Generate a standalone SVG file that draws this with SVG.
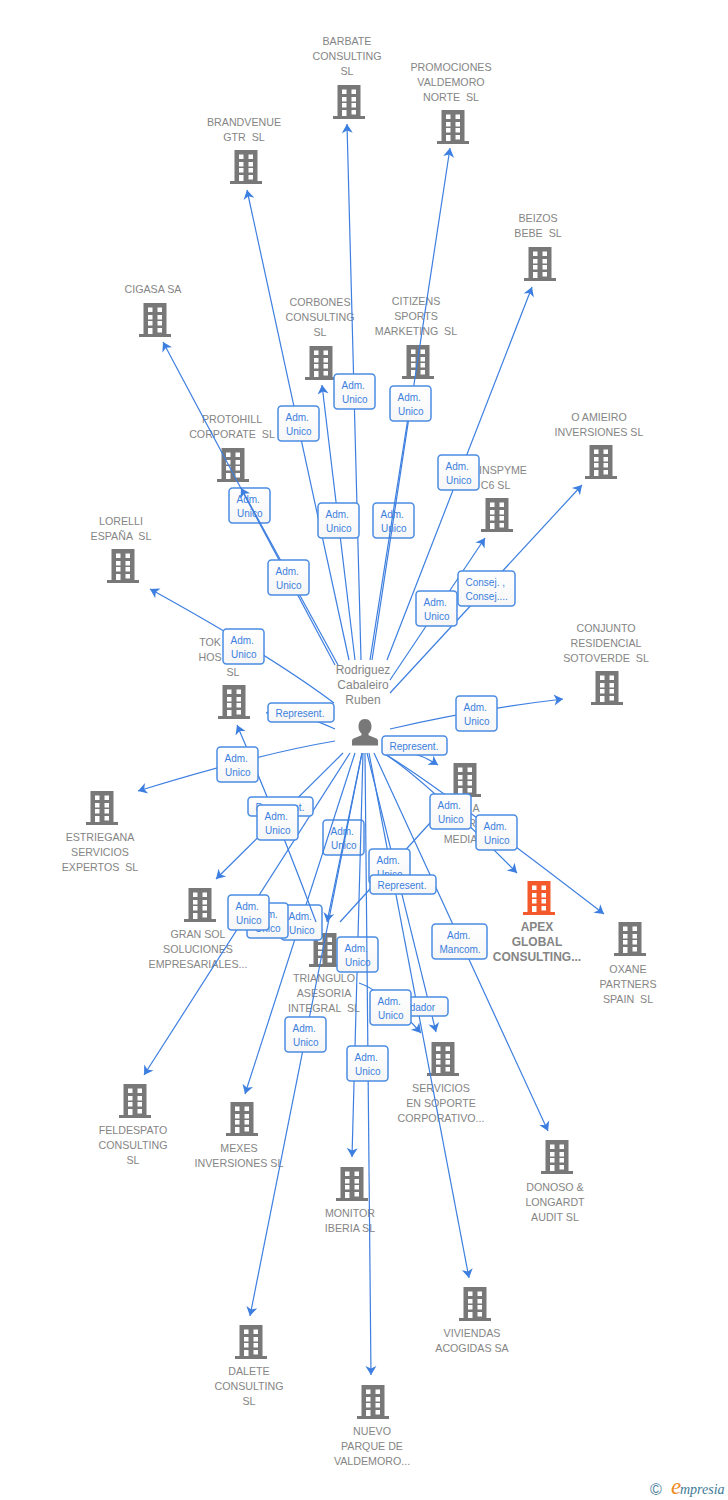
<svg xmlns="http://www.w3.org/2000/svg" width="728" height="1500" viewBox="0 0 728 1500">
<style>
text{font-family:"Liberation Sans",Arial,sans-serif;white-space:pre}
.n text{font-size:10.67px;fill:#858585;text-anchor:middle}
.p text{font-size:12px;fill:#858585;text-anchor:middle}
.a text{font-size:12px;fill:#858585;text-anchor:middle;font-weight:bold}
.e{fill:none;stroke:#3d7fe0;stroke-width:1.2;marker-end:url(#h)}
.f{fill:none;stroke:#3d7fe0;stroke-width:1.2}
.br{fill:url(#g);stroke:#4a8ce4;stroke-width:1.5}
.bt{font-size:10px;fill:#3c80de}
</style>
<defs>
<linearGradient id="g" x1="0" y1="0" x2="0" y2="1"><stop offset="0" stop-color="#ffffff"/><stop offset="1" stop-color="#f6f6f6"/></linearGradient>
<marker id="h" markerUnits="userSpaceOnUse" markerWidth="14" markerHeight="14" refX="12" refY="7" orient="auto"><path d="M3,1.500 L12,7 L3,12.500 L5.500,7 z" fill="#3d7fe0"/></marker>
<path id="bld" fill-rule="evenodd" d="M-11.500,0 H11.500 V31 H16 V34 H-16 V31 H-11.500 Z M-7,4.500 V9 H-2.500 V4.500 Z M2.500,4.500 V9 H7 V4.500 Z M-7,12 V16.500 H-2.500 V12 Z M2.500,12 V16.500 H7 V12 Z M-7,18 V22.500 H-2.500 V18 Z M2.500,18 V22.500 H7 V18 Z M-7,25 V31 H-2.500 V25 Z M2.500,25 V29.500 H7 V25 Z"/>
<g id="u"><rect class="br" width="41" height="35" rx="3.500"/><text class="bt" x="7.500" y="14.500">Adm.</text><text class="bt" x="8" y="29">Unico</text></g>
</defs>
<rect width="728" height="1500" fill="#ffffff"/>

<g id="nodes">
<g id="barbate" class="n"><use href="#bld" x="349" y="85" fill="#787878"/><text x="347" y="45">BARBATE</text><text x="347" y="60">CONSULTING</text><text x="347" y="75">SL</text></g>
<g id="promociones" class="n"><use href="#bld" x="453" y="110" fill="#787878"/><text x="451" y="71">PROMOCIONES</text><text x="451" y="86">VALDEMORO</text><text x="451" y="101">NORTE  SL</text></g>
<g id="brandvenue" class="n"><use href="#bld" x="246" y="150" fill="#787878"/><text x="244" y="126">BRANDVENUE</text><text x="244" y="141">GTR  SL</text></g>
<g id="beizos" class="n"><use href="#bld" x="540" y="247" fill="#787878"/><text x="538" y="222">BEIZOS</text><text x="538" y="237">BEBE  SL</text></g>
<g id="cigasa" class="n"><use href="#bld" x="155" y="303" fill="#787878"/><text x="153" y="293">CIGASA SA</text></g>
<g id="corbones" class="n"><use href="#bld" x="321" y="346" fill="#787878"/><text x="320" y="306">CORBONES</text><text x="320" y="321">CONSULTING</text><text x="320" y="336">SL</text></g>
<g id="citizens" class="n"><use href="#bld" x="418" y="345" fill="#787878"/><text x="416" y="305">CITIZENS</text><text x="416" y="320">SPORTS</text><text x="416" y="335">MARKETING  SL</text></g>
<g id="protohill" class="n"><use href="#bld" x="233" y="448" fill="#787878"/><text x="232" y="423">PROTOHILL</text><text x="232" y="438">CORPORATE  SL</text></g>
<g id="amieiro" class="n"><use href="#bld" x="601" y="445" fill="#787878"/><text x="599" y="421">O AMIEIRO</text><text x="599" y="436">INVERSIONES SL</text></g>
<g id="inspyme" class="n"><use href="#bld" x="497" y="498" fill="#787878"/><text x="503" y="474">INSPYME</text><text x="495.500" y="489">C6 SL</text></g>
<g id="lorelli" class="n"><use href="#bld" x="123" y="549" fill="#787878"/><text x="121" y="525">LORELLI</text><text x="121" y="540">ESPAÑA  SL</text></g>
<g id="tok" class="n"><use href="#bld" x="234" y="685" fill="#787878"/><text x="210" y="646">TOK</text><text x="210" y="661">HOS</text><text x="233" y="676">SL</text></g>
<g id="conjunto" class="n"><use href="#bld" x="607" y="671" fill="#787878"/><text x="606" y="632">CONJUNTO</text><text x="606" y="647">RESIDENCIAL</text><text x="606" y="662">SOTOVERDE  SL</text></g>
<g id="media" class="n"><use href="#bld" x="465" y="763" fill="#787878"/><text x="476" y="812">A</text><text x="472" y="827">R</text><text x="465" y="843">MEDIA...</text></g>
<g id="estriegana" class="n"><use href="#bld" x="102" y="791" fill="#787878"/><text x="100" y="841">ESTRIEGANA</text><text x="100" y="856">SERVICIOS</text><text x="100" y="871">EXPERTOS  SL</text></g>
<g id="gransol" class="n"><use href="#bld" x="200" y="888" fill="#787878"/><text x="198" y="938">GRAN SOL</text><text x="198" y="953">SOLUCIONES</text><text x="198" y="968">EMPRESARIALES...</text></g>
<g id="triangulo" class="n"><use href="#bld" x="325" y="933" fill="#787878"/><text x="324" y="982">TRIANGULO</text><text x="324" y="997">ASESORIA</text><text x="324" y="1012">INTEGRAL  SL</text></g>
<g id="apex" class="a"><use href="#bld" x="539" y="881" fill="#f4592c"/><text x="537" y="931">APEX</text><text x="537" y="946">GLOBAL</text><text x="537" y="961">CONSULTING...</text></g>
<g id="oxane" class="n"><use href="#bld" x="630" y="922" fill="#787878"/><text x="628" y="973">OXANE</text><text x="628" y="988">PARTNERS</text><text x="628" y="1003">SPAIN  SL</text></g>
<g id="feldespato" class="n"><use href="#bld" x="135" y="1084" fill="#787878"/><text x="133" y="1134">FELDESPATO</text><text x="133" y="1149">CONSULTING</text><text x="133" y="1164">SL</text></g>
<g id="mexes" class="n"><use href="#bld" x="242" y="1102" fill="#787878"/><text x="239" y="1152">MEXES</text><text x="239" y="1167">INVERSIONES SL</text></g>
<g id="monitor" class="n"><use href="#bld" x="352" y="1167" fill="#787878"/><text x="350" y="1217">MONITOR</text><text x="350" y="1232">IBERIA SL</text></g>
<g id="servicios" class="n"><use href="#bld" x="443" y="1042" fill="#787878"/><text x="441" y="1092">SERVICIOS</text><text x="441" y="1107">EN SOPORTE</text><text x="441" y="1122">CORPORATIVO...</text></g>
<g id="donoso" class="n"><use href="#bld" x="557" y="1140" fill="#787878"/><text x="555" y="1191">DONOSO &amp;</text><text x="555" y="1206">LONGARDT</text><text x="555" y="1221">AUDIT SL</text></g>
<g id="viviendas" class="n"><use href="#bld" x="475" y="1287" fill="#787878"/><text x="472" y="1337">VIVIENDAS</text><text x="472" y="1352">ACOGIDAS SA</text></g>
<g id="dalete" class="n"><use href="#bld" x="251" y="1325" fill="#787878"/><text x="249" y="1375">DALETE</text><text x="249" y="1390">CONSULTING</text><text x="249" y="1405">SL</text></g>
<g id="nuevo" class="n"><use href="#bld" x="373" y="1385" fill="#787878"/><text x="372" y="1435">NUEVO</text><text x="372" y="1450">PARQUE DE</text><text x="372" y="1465">VALDEMORO...</text></g>
<g id="person" class="p"><text x="363" y="674">Rodriguez</text><text x="363" y="689">Cabaleiro</text><text x="363" y="704">Ruben</text><path fill="#787878" d="M365,719 c-4.500,0 -6.500,3.500 -6.500,7.500 c0,3 1.200,5.500 3,7 v1.800 l-8,3.200 c-1.200,.5 -1.500,1.500 -1.500,3 V745.500 H378 V741.500 c0,-1.500 -.3,-2.500 -1.500,-3 l-8,-3.200 v-1.800 c1.800,-1.500 3,-4 3,-7 c0,-4 -2,-7.500 -6.500,-7.500 z"/></g>
</g>

<g id="connectors">
<use href="#u" x="373" y="503"/><use href="#u" x="229" y="488"/><use href="#u" x="323" y="820"/>
<path class="e" d="M361,660 L347,124"/>
<path class="e" d="M372,660 L450,148"/>
<path class="e" d="M370,660 L413,386"/>
<path class="e" d="M349,660 L247,190"/>
<path class="e" d="M355,660 L322,385"/>
<path class="e" d="M387,660 L532,287"/>
<path class="e" d="M335,665 L163,342"/>
<path class="e" d="M338,665 L241,488"/>
<path class="e" d="M390,680 L485,538"/>
<path class="e" d="M390,693 L582,485"/>
<path class="e" d="M334,703 Q270,655 150,589"/>
<path class="e" d="M335,741 Q258,754 138,791"/>
<path class="e" d="M335,729 Q290,708 266,713"/>
<path class="e" d="M390,729 Q470,710 563,699"/>
<path class="e" d="M385,748 Q415,750 438,765"/>
<path class="e" d="M383,753 Q430,780 604,914"/>
<path class="e" d="M383,753 Q420,775 517,873"/>
<path class="e" d="M343,753 L216,879"/>
<path class="e" d="M350,753 L144,1075"/>
<path class="e" d="M355,753 L245,1094"/>
<path class="e" d="M362,753 L327,922"/>
<path class="e" d="M362,753 L250,1316"/>
<path class="e" d="M363,753 L352,1157"/>
<path class="f" d="M340,922 L440,812"/>
<use href="#u" x="281" y="905"/>
<path class="e" d="M316,922 Q280,825 237,725"/>
<path class="e" d="M359,983 Q385,992 421,1033"/>
<path class="e" d="M367,753 L436,1032"/>
<path class="e" d="M369,753 L469,1278"/>
<path class="e" d="M374,753 L548,1131"/>
<use href="#u" x="334" y="374"/><use href="#u" x="390" y="386"/><use href="#u" x="278" y="406"/><use href="#u" x="318" y="503"/><use href="#u" x="438" y="455"/><use href="#u" x="268" y="560"/><use href="#u" x="416" y="591"/>
<g transform="translate(458,571)"><rect class="br" width="57" height="35" rx="3.500"/><text class="bt" x="7.500" y="14.500">Consej. ,</text><text class="bt" x="7.500" y="29">Consej....</text></g>
<use href="#u" x="223" y="629"/>
<g transform="translate(268,703)"><rect class="br" width="66" height="19" rx="3.500"/><text class="bt" x="7.500" y="13.500">Represent.</text></g>
<use href="#u" x="456" y="696"/>
<g transform="translate(382,736)"><rect class="br" width="65" height="19" rx="3.500"/><text class="bt" x="7.500" y="13.500">Represent.</text></g>
<use href="#u" x="217" y="747"/>
<g transform="translate(248,797)"><rect class="br" width="65" height="19" rx="3.500"/><text class="bt" x="7.500" y="13.500">Represent.</text></g>
<use href="#u" x="257" y="805"/>
<use href="#u" x="369" y="849"/>
<g transform="translate(370,875)"><rect class="br" width="66" height="19" rx="3.500"/><text class="bt" x="7.500" y="13.500">Represent.</text></g>
<use href="#u" x="430" y="794"/><use href="#u" x="476" y="815"/>
<g transform="translate(432,924)"><rect class="br" width="55" height="35" rx="3.500"/><text class="bt" x="15" y="14.500">Adm.</text><text class="bt" x="7.500" y="29">Mancom.</text></g>
<use href="#u" x="247" y="903"/>
<use href="#u" x="228" y="895"/>
<use href="#u" x="337" y="937"/>
<path class="e" d="M365,753 L371,1375"/>
<g transform="translate(381,997)"><rect class="br" width="67" height="19" rx="3.500"/><text class="bt" x="7.500" y="13.500">Liquidador</text></g>
<use href="#u" x="370" y="990"/>
<use href="#u" x="285" y="1017"/>
<use href="#u" x="347" y="1046"/>
</g>

<g id="logo">
<text x="650" y="1495" style="font-size:16px;fill:#4d7f9c">©</text>
<text x="671" y="1494" style="font-family:'Liberation Serif',serif;font-style:italic;font-size:23px;fill:#f08a1e">e</text>
<text x="680" y="1494" style="font-family:'Liberation Serif',serif;font-style:italic;font-size:14px;fill:#3d7a96">mpresia</text>
</g>
</svg>
